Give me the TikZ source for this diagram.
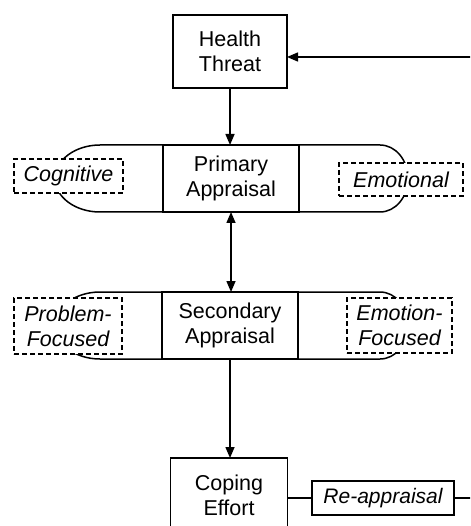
\documentclass[tikz,border=0pt]{standalone}
\usepackage{fontspec}
\setmainfont{Liberation Sans}
\usetikzlibrary{arrows.meta}
\tikzset{
  box/.style={draw, line width=1.5pt, fill=white, align=center, inner sep=0pt, outer sep=0pt,
    font=\fontsize{21.5}{25}\selectfont},
  dbox/.style={draw, dash pattern=on 5pt off 3pt, line width=1.1pt, fill=white, align=center,
    inner sep=0pt, outer sep=0pt, font=\itshape\fontsize{21.5}{25}\selectfont},
  rbox/.style={draw, line width=1.5pt, fill=white, align=center, inner sep=0pt, outer sep=0pt,
    font=\itshape\fontsize{21}{25}\selectfont},
  conn/.style={line width=1.5pt},
  arr/.style={conn, -{Triangle[length=11pt,width=9pt]}},
  darr/.style={conn, {Triangle[length=11pt,width=9pt]}-{Triangle[length=11pt,width=9pt]}},
  rowshape/.style={line width=1.5pt}
}
\begin{document}
\begin{tikzpicture}[x=1pt,y=-1pt]
\clip (0,0) rectangle (470,526);
\fill[white] (0,0) rectangle (470,526);

% row outlines (rectangles with elliptical ends)
\foreach \dy in {0,147}{
  \begin{scope}[shift={(0,\dy)}]
    \draw[rowshape] (100,145) -- (380,145)
      .. controls (395.5,145) and (408,160) .. (408,178.5)
      .. controls (408,197) and (395.5,212) .. (380,212)
      -- (100,212)
      .. controls (75.2,212) and (55,197) .. (55,178.5)
      .. controls (55,160) and (75.2,145) .. (100,145) -- cycle;
  \end{scope}
}

\node[box, minimum width=114pt, minimum height=73pt] (ht) at (230,51.5) {Health\\Threat};
\node[box, minimum width=136pt, minimum height=67pt] (pa) at (231,178.5) {Primary\\Appraisal};
\node[box, minimum width=136pt, minimum height=67pt] (sa) at (230,325.5) {Secondary\\Appraisal};
\node[box, minimum width=117pt, minimum height=74pt] (ce) at (229,495) {Coping\\Effort};

\node[dbox, minimum width=109pt, minimum height=34pt] (cog) at (68.5,176) {Cognitive};
\node[dbox, minimum width=124pt, minimum height=33pt] (emo) at (401,179.5) {Emotional};
\node[dbox, minimum width=108pt, minimum height=56pt] (pf) at (68,326) {Problem-\\Focused};
\node[dbox, minimum width=105pt, minimum height=55pt] (ef) at (399.5,325.5) {Emotion-\\Focused};

\node[rbox, minimum width=142pt, minimum height=34pt] (ra) at (383,498) {Re-appraisal};

\coordinate (fb) at (494,498);

\draw[arr] (ht.south) -- (ht.south |- pa.north);
\draw[darr] (pa.south) -- (pa.south |- sa.north);
\draw[arr] (sa.south) -- (sa.south |- ce.north);
\draw[conn] (ce.east |- ra.west) -- (ra.west);
\draw[arr] (ra.east) -- (fb) |- ([yshift=-5.5pt]ht.east);
\end{tikzpicture}
\end{document}
